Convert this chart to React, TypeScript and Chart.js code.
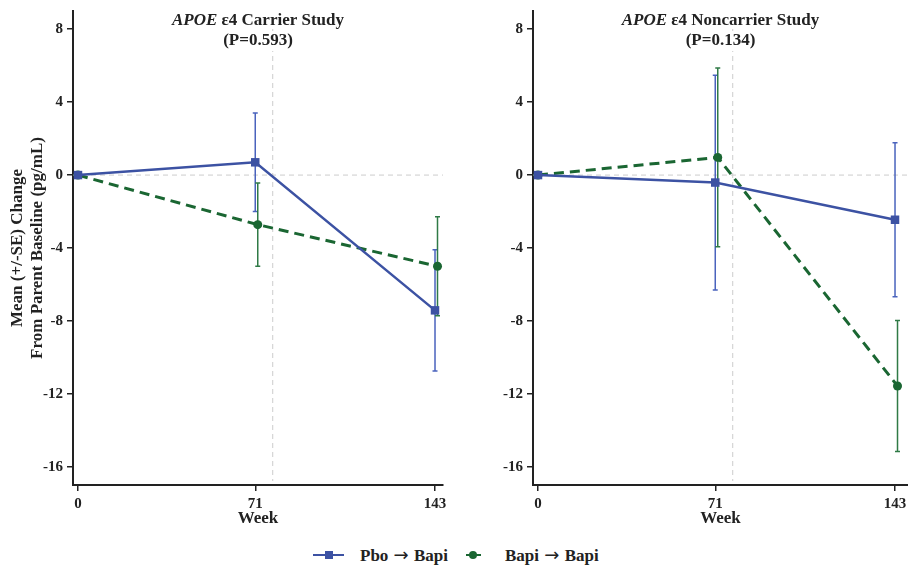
import { useEffect, useRef } from 'react';
import { Chart, registerables } from 'chart.js';

Chart.register(...registerables);

// ---------- data ----------
const weeks = [0, 71, 143];
const xTickValues = [0, 71, 143];
const yTickValues = [8, 4, 0, -4, -8, -12, -16];
const parentEndWeek = 78;
const seriesNames = ['Pbo', 'Bapi'];
const seriesTargets = ['Bapi', 'Bapi'];

const carrierTitle = ['APOE', ' \u03b54 Carrier Study', '(P=0.593)'];
const carrierPboMean = [0, 0.7, -7.42];
const carrierPboSE = [0, 2.7, 3.32];
const carrierBapiMean = [0, -2.72, -5.0];
const carrierBapiSE = [0, 2.28, 2.72];

const noncarrierTitle = ['APOE', ' \u03b54 Noncarrier Study', '(P=0.134)'];
const noncarrierPboMean = [0, -0.41, -2.45];
const noncarrierPboSE = [0, 5.89, 4.23];
const noncarrierBapiMean = [0, 0.97, -11.57];
const noncarrierBapiSE = [0, 4.9, 3.59];

// ---------- style ----------
const FONT = '"Liberation Serif", "Times New Roman", serif';
const INK = '#222222';
const BLUE = '#3c52a3';
const BLUE_ERR = '#4a63bd';
const GREEN = '#1a6632';
const GREEN_ERR = '#2f7a46';
const DODGE = 1; // small horizontal offset of the second group

const decorPlugin = {
  id: 'decor',
  beforeDatasetsDraw(chart: any) {
    const { ctx, chartArea, scales } = chart;
    const xs = scales.x;
    const ys = scales.y;
    ctx.save();
    ctx.strokeStyle = '#cccccc';
    ctx.lineWidth = 1;
    ctx.setLineDash([5, 4]);
    ctx.beginPath();
    const y0 = ys.getPixelForValue(0);
    ctx.moveTo(chartArea.left, y0);
    ctx.lineTo(chartArea.right, y0);
    const xr = xs.getPixelForValue(parentEndWeek);
    ctx.moveTo(xr, chartArea.top);
    ctx.lineTo(xr, chartArea.bottom - 4);
    ctx.stroke();
    ctx.restore();
    chart.data.datasets.forEach((ds: any, i: number) => {
      const meta = chart.getDatasetMeta(i);
      if (!ds.se) return;
      ctx.save();
      ctx.strokeStyle = ds.errorColor;
      ctx.lineWidth = 1.5;
      meta.data.forEach((pt: any, j: number) => {
        const s = ds.se[j];
        if (!s) return;
        const m = ds.data[j].y;
        const yt = ys.getPixelForValue(m + s);
        const yb = ys.getPixelForValue(m - s);
        const x = pt.x;
        ctx.beginPath();
        ctx.moveTo(x, yt);
        ctx.lineTo(x, yb);
        ctx.moveTo(x - 2.5, yt);
        ctx.lineTo(x + 2.5, yt);
        ctx.moveTo(x - 2.5, yb);
        ctx.lineTo(x + 2.5, yb);
        ctx.stroke();
      });
      ctx.restore();
    });
  },
  afterDraw(chart: any) {
    const { ctx, chartArea } = chart;
    const t = chart.options.plugins.decor.title as string[];
    const cx = (chartArea.left + chartArea.right) / 2;
    ctx.save();
    const fItal = `italic bold 17px ${FONT}`;
    const fBold = `bold 17px ${FONT}`;
    ctx.font = fItal;
    const w1 = ctx.measureText(t[0]).width;
    ctx.font = fBold;
    const w2 = ctx.measureText(t[1]).width;
    const w3 = ctx.measureText(t[2]).width;
    const tot = w1 + w2;
    const b1 = chartArea.top + 14;
    const b2 = chartArea.top + 34;
    ctx.fillStyle = '#ffffff';
    ctx.fillRect(cx - tot / 2 - 2, b1 - 14, tot + 4, 18);
    ctx.fillRect(cx - w3 / 2 - 2, b2 - 14, w3 + 4, 20);
    ctx.fillStyle = INK;
    ctx.textBaseline = 'alphabetic';
    ctx.textAlign = 'left';
    ctx.font = fItal;
    ctx.fillText(t[0], cx - tot / 2, b1);
    ctx.font = fBold;
    ctx.fillText(t[1], cx - tot / 2 + w1, b1);
    ctx.fillText(t[2], cx - w3 / 2, b2);
    ctx.restore();
  },
};

type PanelProps = {
  title: string[];
  pboMean: number[];
  pboSE: number[];
  bapiMean: number[];
  bapiSE: number[];
  width: number;
  padRight: number;
  xMax: number;
  showYTitle: boolean;
};

function Panel(p: PanelProps) {
  const ref = useRef<HTMLCanvasElement | null>(null);
  useEffect(() => {
    if (!ref.current) return;
    const chart = new Chart(ref.current, {
      type: 'line',
      data: {
        datasets: [
          {
            label: seriesNames[0],
            data: weeks.map((w, i) => ({ x: w, y: p.pboMean[i] })),
            borderColor: BLUE,
            backgroundColor: BLUE,
            borderWidth: 2.5,
            pointStyle: 'rect',
            pointRadius: 6,
            pointBorderWidth: 0,
            tension: 0,
            se: p.pboSE,
            errorColor: BLUE_ERR,
          } as any,
          {
            label: seriesNames[1],
            data: weeks.map((w, i) => ({ x: w === 0 ? w : w + DODGE, y: p.bapiMean[i] })),
            borderColor: GREEN,
            backgroundColor: GREEN,
            borderWidth: 3,
            borderDash: [10, 6],
            pointStyle: 'circle',
            pointRadius: 4.5,
            pointBorderWidth: 0,
            tension: 0,
            se: p.bapiSE,
            errorColor: GREEN_ERR,
          } as any,
        ],
      },
      options: {
        responsive: false,
        animation: false,
        events: [],
        layout: { autoPadding: false, padding: { top: 11, right: p.padRight, left: 0, bottom: 0 } },
        plugins: {
          legend: { display: false },
          tooltip: { enabled: false },
          decor: { title: p.title },
        } as any,
        scales: {
          x: {
            type: 'linear',
            min: -2,
            max: p.xMax,
            afterBuildTicks: (axis: any) => {
              axis.ticks = xTickValues.map((v) => ({ value: v }));
            },
            afterFit: (axis: any) => {
              axis.height = 45;
              axis.paddingLeft = 0;
              axis.paddingRight = 0;
            },
            border: { display: true, color: INK, width: 2 },
            grid: { drawOnChartArea: false, drawTicks: true, tickLength: 6, color: INK, lineWidth: 1.5 },
            ticks: {
              color: INK,
              padding: 4,
              maxRotation: 0,
              autoSkip: false,
              font: { family: FONT, size: 15, weight: 'bold' },
            },
            title: {
              display: true,
              text: 'Week',
              color: INK,
              font: { family: FONT, size: 17, weight: 'bold', lineHeight: 1.2 },
              padding: { top: 0, bottom: 1 },
            },
          },
          y: {
            type: 'linear',
            min: -17,
            max: 9,
            afterBuildTicks: (axis: any) => {
              axis.ticks = yTickValues.map((v) => ({ value: v }));
            },
            afterFit: (axis: any) => {
              axis.width = 73;
              axis.paddingTop = 0;
              axis.paddingBottom = 0;
            },
            border: { display: true, color: INK, width: 2 },
            grid: { drawOnChartArea: false, drawTicks: true, tickLength: 6, color: INK, lineWidth: 1.5 },
            ticks: {
              color: INK,
              padding: 4,
              font: { family: FONT, size: 15, weight: 'bold' },
            },
            title: {
              display: p.showYTitle,
              text: ['Mean (+/-SE) Change', 'From Parent Baseline (pg/mL)'],
              color: INK,
              font: { family: FONT, size: 17, weight: 'bold', lineHeight: 1.18 },
              padding: { top: 8, bottom: 0 },
            },
          },
        },
      },
      plugins: [decorPlugin as any],
    });
    return () => chart.destroy();
  }, []);
  return <canvas ref={ref} width={p.width} height={530} style={{ display: 'block' }} />;
}

const legendText: React.CSSProperties = {
  position: 'absolute',
  top: 544,
  fontFamily: FONT,
  fontWeight: 'bold',
  fontSize: 17,
  lineHeight: '22px',
  color: INK,
  whiteSpace: 'nowrap',
};
const arrowStyle: React.CSSProperties = {
  fontFamily: '"DejaVu Sans", sans-serif',
  fontWeight: 'normal',
  fontSize: 18,
  margin: '0 1px',
};

export default function App() {
  return (
    <div style={{ position: 'fixed', left: 0, top: 0, width: 908, height: 566, background: '#fff', overflow: 'hidden' }}>
      <div style={{ position: 'absolute', left: 0, top: 0 }}>
        <Panel
          title={carrierTitle}
          pboMean={carrierPboMean}
          pboSE={carrierPboSE}
          bapiMean={carrierBapiMean}
          bapiSE={carrierBapiSE}
          width={460}
          padRight={17}
          xMax={146.2}
          showYTitle={true}
        />
      </div>
      <div style={{ position: 'absolute', left: 460, top: 0 }}>
        <Panel
          title={noncarrierTitle}
          pboMean={noncarrierPboMean}
          pboSE={noncarrierPboSE}
          bapiMean={noncarrierBapiMean}
          bapiSE={noncarrierBapiSE}
          width={448}
          padRight={0}
          xMax={148.2}
          showYTitle={false}
        />
      </div>
      {/* legend */}
      <div style={{ position: 'absolute', left: 313, top: 554, width: 31, height: 2, background: BLUE }} />
      <div style={{ position: 'absolute', left: 325, top: 551, width: 8, height: 8, background: BLUE }} />
      <div style={{ ...legendText, left: 360 }}>
        {seriesNames[0]} <span style={arrowStyle}>{'\u2192'}</span> {seriesTargets[0]}
      </div>
      <div style={{ position: 'absolute', left: 466, top: 554, width: 15, height: 2, background: GREEN }} />
      <div style={{ position: 'absolute', left: 469, top: 551, width: 8, height: 8, borderRadius: 4, background: GREEN }} />
      <div style={{ ...legendText, left: 505 }}>
        {seriesNames[1]} <span style={arrowStyle}>{'\u2192'}</span> {seriesTargets[1]}
      </div>
    </div>
  );
}
